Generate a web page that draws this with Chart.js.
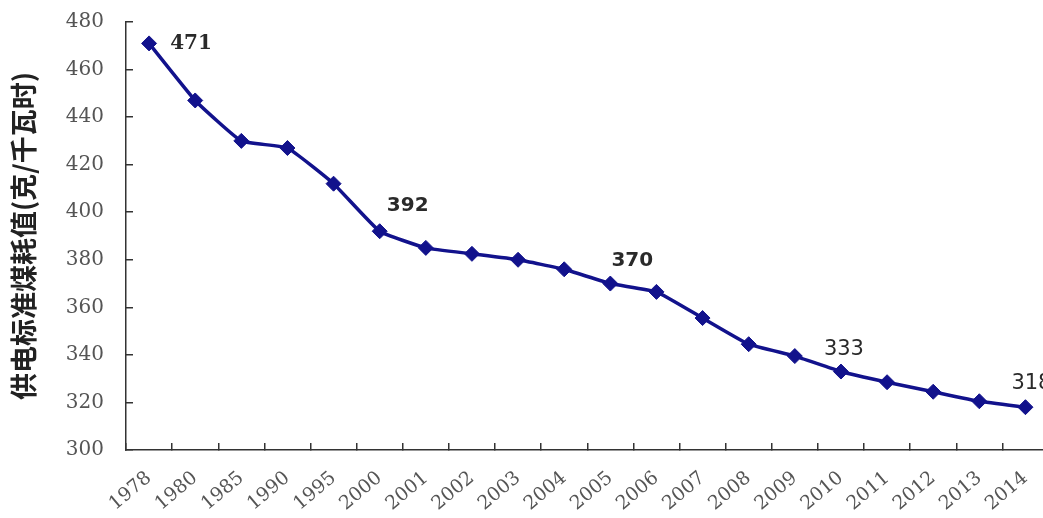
<!DOCTYPE html>
<html>
<head>
<meta charset="utf-8">
<script src="https://cdn.jsdelivr.net/npm/chart.js@4/dist/chart.umd.min.js"></script>
<style>
  html, body { margin: 0; padding: 0; background: #fff; overflow: hidden; }
  canvas { display: block; }
</style>
</head>
<body>
<canvas id="chart" width="1057" height="518"></canvas>
<script>
// Years on the category axis
const years = ['1978', '1980', '1985', '1990', '1995', '2000', '2001', '2002', '2003', '2004',
               '2005', '2006', '2007', '2008', '2009', '2010', '2011', '2012', '2013', '2014'];

// Coal consumption per kWh of power supplied (g/kWh)
const coalUse = [471, 447, 430, 427, 412, 392, 385, 382.5, 380, 376,
                 370, 366.5, 355.5, 344.5, 339.5, 333, 328.5, 324.5, 320.5, 318];

// Years whose values are written next to the line
const labelledYears = ['1978', '2000', '2005', '2010', '2014'];

// Value axis range
const yMin = 300;
const yMax = 480;
const yStep = 20;

const axisTitle = '供电标准煤耗值(克/千瓦时)';

// Placement and font of each value label, relative to its point
const labelStyle = {
  '1978': { dx: 42, dy: 0,   font: 'bold 20px "DejaVu Serif"' },
  '2000': { dx: 28, dy: -25, font: 'bold 20px "DejaVu Sans"' },
  '2005': { dx: 22, dy: -23, font: 'bold 20px "DejaVu Sans"' },
  '2010': { dx: 3,  dy: -22, font: '21px "DejaVu Sans"' },
  '2014': { dx: 6,  dy: -24, font: '21px "DejaVu Sans"' }
};

const valueLabels = {
  id: 'valueLabels',
  afterDatasetsDraw(chart) {
    const ctx = chart.ctx;
    const meta = chart.getDatasetMeta(0);
    ctx.save();
    ctx.fillStyle = '#2a2a2a';
    ctx.textAlign = 'center';
    ctx.textBaseline = 'middle';
    labelledYears.forEach(y => {
      const i = years.indexOf(y);
      const pt = meta.data[i];
      const s = labelStyle[y];
      ctx.font = s.font;
      ctx.fillText(String(coalUse[i]), pt.x + s.dx, pt.y + s.dy);
    });
    ctx.restore();
  }
};

const lineColor = '#12128c';

new Chart(document.getElementById('chart'), {
  type: 'line',
  data: {
    labels: years,
    datasets: [{
      data: coalUse,
      borderColor: lineColor,
      backgroundColor: lineColor,
      borderWidth: 3.5,
      tension: 0.12,
      pointStyle: 'rectRot',
      pointRadius: 7.5,
      pointHoverRadius: 7.5,
      pointBorderWidth: 1,
      pointBorderColor: lineColor,
      pointBackgroundColor: lineColor,
      fill: false
    }]
  },
  options: {
    responsive: false,
    animation: false,
    events: [],
    layout: { padding: { top: 22, right: 2, left: 0, bottom: 0 } },
    plugins: {
      legend: { display: false },
      tooltip: { enabled: false }
    },
    scales: {
      x: {
        type: 'category',
        offset: true,
        grid: {
          offset: true,
          drawOnChartArea: false,
          drawTicks: true,
          tickLength: -7,
          color: '#333',
          lineWidth: 1.5
        },
        border: { display: true, color: '#333', width: 1.5 },
        ticks: {
          color: '#555',
          font: { family: '"DejaVu Serif"', size: 19 },
          minRotation: 40,
          maxRotation: 40,
          padding: 24,
          autoSkip: false
        },
        afterFit(scale) {
          scale.height = 68;
          scale.paddingLeft = 0;
          scale.paddingRight = 0;
          scale.paddingTop = 0;
        }
      },
      y: {
        min: yMin,
        max: yMax,
        grid: {
          drawOnChartArea: false,
          drawTicks: true,
          tickLength: -7,
          color: '#333',
          lineWidth: 1.5
        },
        border: { display: true, color: '#333', width: 1.5 },
        ticks: {
          stepSize: yStep,
          color: '#555',
          font: { family: '"DejaVu Serif"', size: 20 },
          padding: 29
        },
        title: {
          display: true,
          text: axisTitle,
          color: '#222',
          font: { family: '"Noto Sans CJK SC"', size: 27, weight: 'bold' },
          padding: { top: 8, bottom: 0 }
        },
        afterFit(scale) {
          scale.width = 126;
          scale.paddingTop = 0;
          scale.paddingBottom = 0;
        }
      }
    }
  },
  plugins: [valueLabels]
});
</script>
</body>
</html>
